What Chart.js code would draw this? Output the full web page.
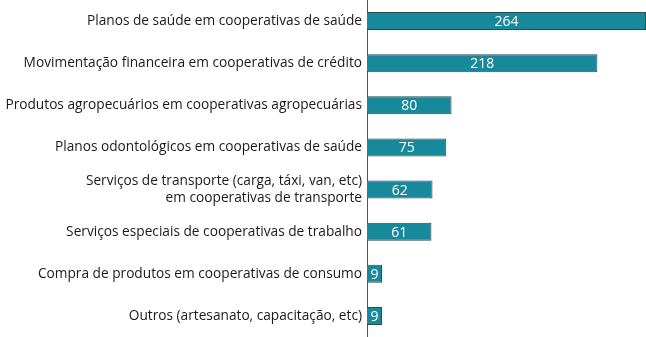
<!DOCTYPE html>
<html lang="pt">
<head>
    <meta charset="UTF-8">
    <title>Cooperativas</title>
    <script src="https://cdn.jsdelivr.net/npm/chart.js"></script>
    <style>
        body { margin: 0; background: #fff; }
    </style>
</head>
<body>
    <canvas id="myChart" width="646" height="337"></canvas>
    <script>
        // categorias (o rótulo de transporte quebra em duas linhas)
        const categories = [
            'Planos de saúde em cooperativas de saúde',
            'Movimentação financeira em cooperativas de crédito',
            'Produtos agropecuários em cooperativas agropecuárias',
            'Planos odontológicos em cooperativas de saúde',
            ['Serviços de transporte (carga, táxi, van, etc)', 'em cooperativas de transporte'],
            'Serviços especiais de cooperativas de trabalho',
            'Compra de produtos em cooperativas de consumo',
            'Outros (artesanato, capacitação, etc)'
        ];
        const values = [264, 218, 80, 75, 62, 61, 9, 9];

        const fontFamily = '"Open Sans", sans-serif';

        // escreve o valor no meio de cada barra
        const valueLabels = {
            id: 'valueLabels',
            afterDatasetsDraw(chart) {
                const ctx = chart.ctx;
                const meta = chart.getDatasetMeta(0);
                ctx.save();
                ctx.fillStyle = '#fff';
                ctx.font = '14px ' + fontFamily;
                ctx.textAlign = 'center';
                ctx.textBaseline = 'middle';
                meta.data.forEach((bar, i) => {
                    const x = (bar.base + bar.x) / 2;
                    ctx.fillText(values[i], x, bar.y + 1);
                });
                ctx.restore();
            }
        };

        const ctx = document.getElementById('myChart').getContext('2d');
        new Chart(ctx, {
            type: 'bar',
            data: {
                labels: categories,
                datasets: [{
                    data: values,
                    backgroundColor: '#18899a',
                    borderColor: '#2f4a52',
                    borderWidth: 1,
                    categoryPercentage: 0.43,
                    barPercentage: 1,
                    minBarLength: 15
                }]
            },
            options: {
                indexAxis: 'y',
                responsive: false,
                animation: false,
                layout: { padding: 0 },
                plugins: {
                    legend: { display: false },
                    tooltip: { enabled: false }
                },
                scales: {
                    x: {
                        min: 0,
                        max: 264,
                        display: false
                    },
                    y: {
                        grid: { display: false, drawTicks: false },
                        border: { color: '#555', width: 1 },
                        ticks: {
                            color: '#1a1a1a',
                            padding: 5,
                            font: { family: fontFamily, size: 13.7 }
                        },
                        // eixo ocupa a altura toda e os rótulos longos cabem
                        afterFit(scale) {
                            scale.width = 367;
                            scale.paddingTop = 0;
                            scale.paddingBottom = 0;
                        }
                    }
                }
            },
            plugins: [valueLabels]
        });
    </script>
</body>
</html>
